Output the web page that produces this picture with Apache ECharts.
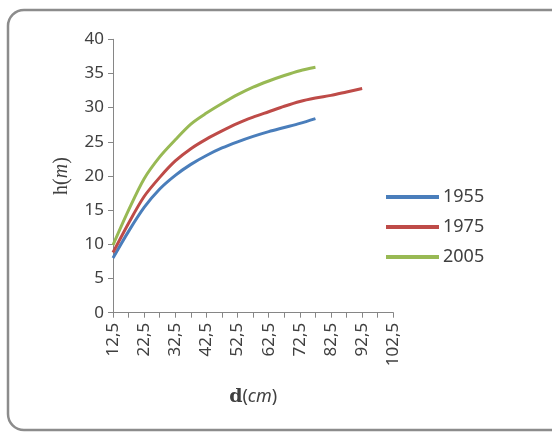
<!DOCTYPE html>
<html>
<head>
<meta charset="utf-8">
<script src="https://cdn.jsdelivr.net/npm/echarts@6/dist/echarts.min.js"></script>
<style>
html,body{margin:0;padding:0;background:#fff;}
#chart{width:552px;height:435px;}
</style>
</head>
<body>
<div id="chart"></div>
<script>
// Diameter classes (cm) on the category axis
var diameters = [12.5,17.5,22.5,27.5,32.5,37.5,42.5,47.5,52.5,57.5,62.5,67.5,72.5,77.5,82.5,87.5,92.5,97.5,102.5];
// Height (m) per series
var h1955 = [8.0, 11.9, 15.4, 18.1, 20.1, 21.7, 23.0, 24.1, 25.0, 25.8, 26.5, 27.1, 27.7, 28.4];
var h1975 = [8.8, 13.1, 17.0, 19.8, 22.2, 24.0, 25.4, 26.6, 27.7, 28.6, 29.4, 30.2, 30.9, 31.4, 31.8, 32.3, 32.8];
var h2005 = [9.9, 15.0, 19.6, 22.8, 25.3, 27.6, 29.2, 30.6, 31.9, 33.0, 33.9, 34.7, 35.4, 35.9];
var seriesNames = ['1955', '1975', '2005'];
var yTicks = {min: 0, max: 40, interval: 5};

var categoryLabels = diameters.map(function (d) { return String(d).replace('.', ','); });
var FONT = 'Noto Sans';
var axisColor = '#868686';
var textColor = '#404040';

var chart = echarts.init(document.getElementById('chart'), null, {renderer: 'canvas'});
chart.setOption({
  animation: false,
  backgroundColor: '#ffffff',
  textStyle: {fontFamily: FONT},
  graphic: [{
    type: 'rect',
    shape: {x: 8, y: 10, width: 580, height: 420, r: 16},
    style: {fill: 'none', stroke: '#8c8c8c', lineWidth: 2.5},
    z: -10
  }],
  grid: {left: 113, top: 39.3, right: 158.7, bottom: 122.3, containLabel: false},
  legend: {
    orient: 'vertical',
    left: 381,
    top: 180,
    icon: 'path://M0,0H53V4H0Z',
    itemWidth: 53,
    itemHeight: 4,
    itemGap: 6,
    textStyle: {fontFamily: FONT, fontSize: 18, lineHeight: 24, color: textColor, padding: [0, 0, 0, -1]},
    data: seriesNames
  },
  xAxis: {
    type: 'category',
    data: categoryLabels,
    boundaryGap: false,
    name: '{b|d}({i|cm})',
    nameLocation: 'middle',
    nameGap: 75,
    nameTextStyle: {
      fontSize: 18, color: textColor,
      rich: {
        b: {fontWeight: 'bold', fontSize: 19, color: textColor, fontFamily: 'DejaVu Serif'},
        i: {fontStyle: 'italic', fontSize: 18, color: textColor, fontFamily: FONT}
      }
    },
    axisLine: {show: true, lineStyle: {color: axisColor, width: 1}},
    axisTick: {show: true, interval: 0, length: 5, lineStyle: {color: axisColor}},
    axisLabel: {interval: 1, rotate: 90, fontSize: 17, color: textColor, margin: 10, fontFamily: FONT},
    splitLine: {show: false}
  },
  yAxis: {
    type: 'value',
    min: yTicks.min, max: yTicks.max, interval: yTicks.interval,
    name: 'h({i|m})',
    nameLocation: 'middle',
    nameRotate: 90,
    nameGap: 41,
    nameTextStyle: {
      fontSize: 20, color: textColor, fontFamily: 'Liberation Serif',
      rich: {i: {fontStyle: 'italic', fontSize: 20, color: textColor, fontFamily: 'Liberation Serif'}}
    },
    axisLine: {show: true, lineStyle: {color: axisColor, width: 1}},
    axisTick: {show: true, length: 5, lineStyle: {color: axisColor}},
    axisLabel: {fontSize: 17, color: textColor, margin: 9, fontFamily: FONT},
    splitLine: {show: false}
  },
  series: [
    {name: seriesNames[0], type: 'line', data: h1955, symbol: 'none', smooth: 0.3,
     lineStyle: {color: '#4a7ebb', width: 3}, itemStyle: {color: '#4a7ebb'}},
    {name: seriesNames[1], type: 'line', data: h1975, symbol: 'none', smooth: 0.3,
     lineStyle: {color: '#be4b48', width: 3}, itemStyle: {color: '#be4b48'}},
    {name: seriesNames[2], type: 'line', data: h2005, symbol: 'none', smooth: 0.3,
     lineStyle: {color: '#98b954', width: 3}, itemStyle: {color: '#98b954'}}
  ]
});
</script>
</body>
</html>
